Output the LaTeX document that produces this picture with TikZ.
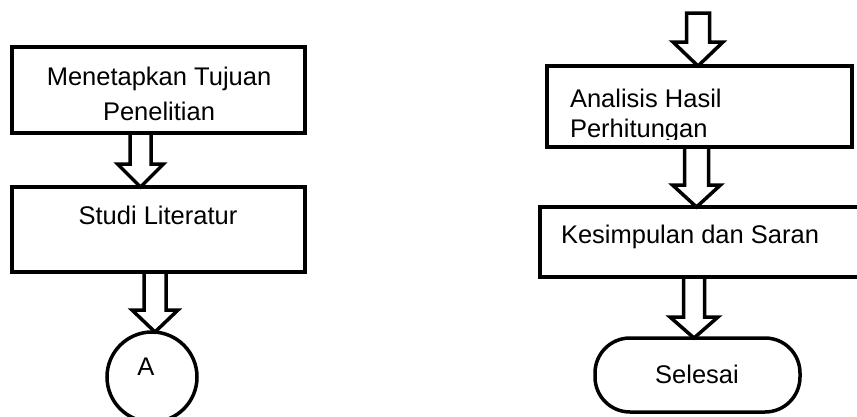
\documentclass[tikz,border=0pt]{standalone}
\usepackage{fontspec}
\setmainfont{Liberation Sans}
\usetikzlibrary{calc}
\tikzset{
  box/.style={draw, line width=4pt, fill=white, inner sep=0pt, outer sep=0pt, line join=miter},
  txt/.style={font=\fontsize{25.5}{35}\selectfont, inner sep=0pt, outer sep=0pt},
  barrow/.style={draw, line width=3.5pt, fill=white, line join=miter},
  endnode/.style={draw, line width=3.5pt, fill=white, inner sep=0pt, outer sep=0pt}
}
% block arrow: #1 start point, #2 tip point, #3 centre x, #4 shaft half width, #5 head half width, #6 head length
\newcommand\blockarr[6]{%
  \draw[barrow] let \p1=(#1), \p2=(#2) in
    ({#3-#4},\y1) -- ({#3-#4},{\y2+#6pt}) -- ({#3-#5},{\y2+#6pt}) -- (#3,\y2)
    -- ({#3+#5},{\y2+#6pt}) -- ({#3+#4},{\y2+#6pt}) -- ({#3+#4},\y1) -- cycle;}
\begin{document}
\begin{tikzpicture}[x=1pt,y=-1pt]
\useasboundingbox (0,0) rectangle (857,416);
% left column
\node[box, minimum width=293pt, minimum height=86pt] (b1) at (158.5,90) {};
\node[box, minimum width=293pt, minimum height=85pt] (b2) at (158.5,229.5) {};
\node[endnode, circle, minimum size=90pt] (cA) at (152,377) {};
\node[txt, anchor=base] (t1a) at (159,85) {Menetapkan Tujuan};
\node[txt, anchor=base] (t1b) at (159,120) {Penelitian};
\node[txt, anchor=base] (t2) at (158,224) {Studi Literatur};
\node[txt, anchor=base] (tA) at (146,375) {A};
% right column
\coordinate (top) at (698,13);
\node[box, minimum width=305pt, minimum height=81pt] (b3) at (699.5,106.5) {};
\node[box, minimum width=340pt, minimum height=70pt] (b4) at (710,242) {};
\node[endnode, rounded corners=35pt, minimum width=205pt, minimum height=74pt] (end) at (697.5,375) {};
\begin{scope}
  \clip (548,68) rectangle (850,139);
  \node[txt, anchor=base west] (t3a) at (570,107) {Analisis Hasil};
  \node[txt, anchor=base west] (t3b) at (570,137) {Perhitungan};
\end{scope}
\node[txt, anchor=base west] (t4) at (561,243) {Kesimpulan dan Saran};
\node[txt, anchor=base] (t5) at (697,383) {Selesai};
% connectors
\blockarr{b1.south}{b2.north}{140.5}{10.5}{23}{23}
\blockarr{b2.south}{cA.north}{155}{11}{23}{22}
\blockarr{top}{b3.north}{698}{11.5}{25}{24}
\blockarr{b3.south}{b4.north}{696.5}{12}{24}{22}
\blockarr{b4.south}{end.north}{694}{10.5}{24}{21}
\end{tikzpicture}
\end{document}
